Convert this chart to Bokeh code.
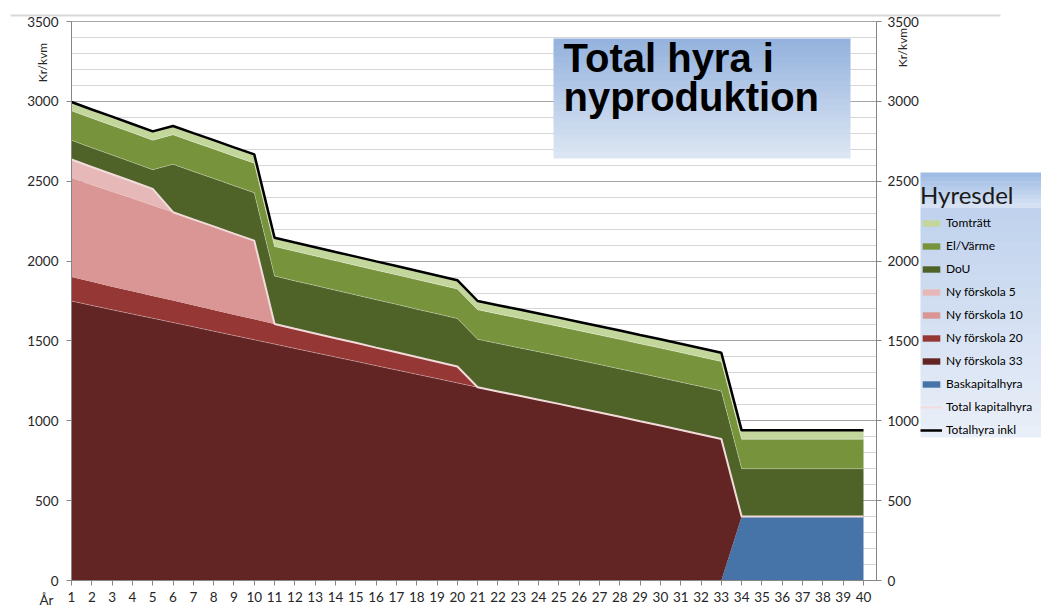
import math
from bokeh.plotting import figure
from bokeh.models import (ColumnDataSource, Range1d, LinearAxis, SingleIntervalTicker,
                          FixedTicker, Legend, LegendItem, Label, BoxAnnotation)
from bokeh.embed import file_html
from bokeh.resources import INLINE

# ---------------- data (kr/kvm per year) ----------------
years = list(range(1, 41))
baskapitalhyra = [0, 0, 0, 0, 0, 0, 0, 0, 0, 0, 0, 0, 0, 0, 0, 0, 0, 0, 0, 0,
                  0, 0, 0, 0, 0, 0, 0, 0, 0, 0, 0, 0, 0, 400, 400, 400, 400, 400, 400, 400]
ny_forskola_33 = [1750, 1722, 1695, 1668, 1642, 1615, 1588, 1561, 1534, 1507,
                  1480, 1453, 1426, 1399, 1372, 1345, 1318, 1291, 1264, 1237,
                  1210, 1184, 1158, 1132, 1106, 1079, 1052, 1025, 997, 970,
                  942, 914, 886, 0, 0, 0, 0, 0, 0, 0]
ny_forskola_20 = [150, 148, 145, 143, 140, 138, 135, 133, 130, 128,
                  126, 123, 121, 118, 116, 113, 111, 108, 106, 103,
                  0, 0, 0, 0, 0, 0, 0, 0, 0, 0, 0, 0, 0, 0, 0, 0, 0, 0, 0, 0]
ny_forskola_10 = [621, 607, 594, 580, 566, 553, 538, 523, 508, 493,
                  0, 0, 0, 0, 0, 0, 0, 0, 0, 0, 0, 0, 0, 0, 0, 0, 0, 0, 0, 0,
                  0, 0, 0, 0, 0, 0, 0, 0, 0, 0]
ny_forskola_5 = [115, 112, 110, 107, 104, 0, 0, 0, 0, 0, 0, 0, 0, 0, 0, 0, 0, 0, 0, 0,
                 0, 0, 0, 0, 0, 0, 0, 0, 0, 0, 0, 0, 0, 0, 0, 0, 0, 0, 0, 0]
dou = [120, 120, 120, 120, 120, 300, 300, 300, 300, 300, 300, 300, 300, 300, 300, 300,
       300, 300, 300, 300, 300, 300, 300, 300, 300, 300, 300, 300, 300, 300, 300, 300,
       300, 300, 300, 300, 300, 300, 300, 300]
el_varme = [185, 185, 185, 185, 185, 185, 185, 185, 185, 185, 185, 185, 185, 185, 185, 185,
            185, 185, 185, 185, 185, 185, 185, 185, 185, 185, 185, 185, 185, 185, 185, 185,
            185, 185, 185, 185, 185, 185, 185, 185]
tomtratt = [55, 55, 55, 55, 55, 55, 55, 55, 55, 55, 55, 55, 55, 55, 55, 55, 55, 55, 55, 55,
            55, 55, 55, 55, 55, 55, 55, 55, 55, 55, 55, 55, 55, 55, 55, 55, 55, 55, 55, 55]

series_names = ["Baskapitalhyra", "Ny förskola 33", "Ny förskola 20", "Ny förskola 10",
                "Ny förskola 5", "DoU", "El/Värme", "Tomträtt"]
series_keys = ["bas", "nf33", "nf20", "nf10", "nf5", "dou", "el", "tomt"]
series_colors = ["#4674A8", "#632523", "#953735", "#D99694", "#E6B9B8",
                 "#4F6228", "#77933C", "#C3D69B"]
line_names = ["Total kapitalhyra", "Totalhyra inkl"]
y_ticks_interval = 500
y_max = 3500

total_kapital = [a + b + c + d + e for a, b, c, d, e in
                 zip(baskapitalhyra, ny_forskola_33, ny_forskola_20, ny_forskola_10, ny_forskola_5)]
total_hyra = [k + d + e + t for k, d, e, t in zip(total_kapital, dou, el_varme, tomtratt)]
cum_nf33 = [a + b for a, b in zip(baskapitalhyra, ny_forskola_33)]
cum_dou = [k + d for k, d in zip(total_kapital, dou)]
cum_el = [k + e for k, e in zip(cum_dou, el_varme)]

src = ColumnDataSource(dict(year=years, bas=baskapitalhyra, nf33=ny_forskola_33,
                            nf20=ny_forskola_20, nf10=ny_forskola_10, nf5=ny_forskola_5,
                            dou=dou, el=el_varme, tomt=tomtratt,
                            kap=total_kapital, tot=total_hyra,
                            c33=cum_nf33, cdou=cum_dou, cel=cum_el))

# ---------------- geometry (page pixels -> data) ----------------
FONT = "Lato"
W, H = 1041, 607
AX_L, AX_R, AX_T, AX_B = 71, 876, 21, 580      # plot area edges on the page
X_FIRST_PX, X_LAST_PX = 71, 863                 # year 1 and year 40
SX = (X_LAST_PX - X_FIRST_PX) / (years[-1] - years[0])
SY = (AX_B - AX_T) / y_max


def px_x(px):
    return years[0] + (px - X_FIRST_PX) / SX


def px_y(py):
    return (AX_B - py) / SY


p = figure(width=W, height=H, x_range=Range1d(px_x(0), px_x(W)),
           y_range=Range1d(px_y(H), px_y(0)),
           output_backend="svg", toolbar_location=None,
           min_border_left=0, min_border_right=0, min_border_top=0, min_border_bottom=0)
p.outline_line_color = None
p.background_fill_color = "white"
p.border_fill_color = "white"

yticker = SingleIntervalTicker(interval=y_ticks_interval, num_minor_ticks=5)
p.yaxis.ticker = yticker
p.ygrid.ticker = yticker
p.xgrid.visible = False
grid = p.ygrid[0]
grid.grid_line_color = "#A6A6A6"
grid.minor_grid_line_color = "#D6D6D6"
grid.bounds = (0, y_max)
if "cross_bounds" in grid.properties():
    grid.cross_bounds = (px_x(AX_L), px_x(AX_R))
else:
    p.add_layout(BoxAnnotation(right=px_x(AX_L), fill_color="white", fill_alpha=1,
                               line_color=None, level="underlay"))
    p.add_layout(BoxAnnotation(left=px_x(AX_R), fill_color="white", fill_alpha=1,
                               line_color=None, level="underlay"))


def style_axis(ax):
    ax.axis_line_color = "#868686"
    ax.major_tick_line_color = "#868686"
    ax.minor_tick_line_color = None
    ax.major_tick_out = 5
    ax.major_tick_in = 0
    ax.major_label_text_font = FONT
    ax.major_label_text_font_size = "13.5px"
    ax.major_label_text_color = "#262626"


xa = p.xaxis[0]
style_axis(xa)
xa.ticker = FixedTicker(ticks=years)
xa.fixed_location = 0
xa.bounds = (px_x(AX_L), px_x(AX_R))
xa.major_label_standoff = 6

ya = p.yaxis[0]
style_axis(ya)
ya.fixed_location = px_x(AX_L)
ya.bounds = (0, y_max)
ya.major_label_standoff = 8

raxis = LinearAxis(ticker=yticker)
style_axis(raxis)
raxis.fixed_location = px_x(AX_R)
raxis.bounds = (0, y_max)
raxis.major_label_standoff = 6
p.add_layout(raxis, "right")

# ---------------- stacked areas ----------------
areas = p.varea_stack(stackers=series_keys, x="year", color=series_colors, source=src)
for col in ("c33", "cdou", "cel"):
    p.line(x="year", y=col, source=src, line_color="white", line_alpha=0.3, line_width=1)
kap_line = p.line(x="year", y="kap", source=src, line_color="#F2DCDB", line_width=2)
tot_line = p.line(x="year", y="tot", source=src, line_color="black", line_width=2.5)

# ---------------- decorations ----------------
def lerp(c1, c2, t):
    return "#%02x%02x%02x" % tuple(int(round(a + (b - a) * t)) for a, b in zip(c1, c2))


def gradient(left, right, top_px, bot_px, c_top, c_bot, n=20):
    h = (bot_px - top_px) / n
    for i in range(n):
        t = i / (n - 1)
        p.add_layout(BoxAnnotation(left=px_x(left), right=px_x(right),
                                   top=px_y(top_px + i * h),
                                   bottom=px_y(min(bot_px, top_px + (i + 1) * h + 0.6)),
                                   fill_color=lerp(c_top, c_bot, t), fill_alpha=1,
                                   line_color=None))


# thin top border line of the chart area
p.add_layout(BoxAnnotation(left=px_x(10), right=px_x(1000), top=px_y(14), bottom=px_y(16),
                           fill_color="#D9D9D9", fill_alpha=1, line_color=None))

# title box
TITLE_FONT = "Liberation Sans"
gradient(553, 850, 38, 158, (149, 179, 222), (220, 230, 243))
p.add_layout(Label(x=px_x(563), y=px_y(79), text="Total hyra i", text_font=TITLE_FONT,
                   text_font_size="40px", text_font_style="bold", text_color="black"))
p.add_layout(Label(x=px_x(563), y=px_y(118), text="nyproduktion", text_font=TITLE_FONT,
                   text_font_size="40px", text_font_style="bold", text_color="black"))

# axis titles
p.add_layout(Label(x=px_x(42), y=px_y(62), text="Kr/kvm", angle=math.pi / 2, text_font=FONT,
                   text_font_size="12px", text_color="#262626", text_align="center",
                   text_baseline="middle"))
p.add_layout(Label(x=px_x(902), y=px_y(47), text="Kr/kvm", angle=math.pi / 2, text_font=FONT,
                   text_font_size="12px", text_color="#262626", text_align="center",
                   text_baseline="middle"))
p.add_layout(Label(x=px_x(46), y=px_y(599), text="År", text_font=FONT,
                   text_font_size="13.5px", text_color="#262626", text_align="center",
                   text_baseline="middle"))

# legend background (header band + body)
gradient(920, 1045, 172, 207, (160, 188, 228), (214, 226, 243), n=8)
gradient(920, 1045, 207, 437, (192, 210, 237), (233, 239, 248), n=20)

order = [7, 6, 5, 4, 3, 2, 1, 0]
items = [LegendItem(label=series_names[i], renderers=[areas[i]]) for i in order]
items.append(LegendItem(label=line_names[0], renderers=[kap_line]))
items.append(LegendItem(label=line_names[1], renderers=[tot_line]))
legend = Legend(items=items, title="Hyresdel", location=(920, H - 438),
                background_fill_alpha=0, border_line_color=None,
                label_text_font=FONT, label_text_font_size="12px", label_text_color="black",
                title_text_font=FONT, title_text_font_size="24px", title_text_font_style="normal",
                title_text_color="#1a1a1a", glyph_width=22, glyph_height=8, label_height=17,
                spacing=6, padding=4, margin=0, title_standoff=5, label_standoff=4)
p.add_layout(legend)

open("out.html", "w").write(file_html(p, INLINE))
